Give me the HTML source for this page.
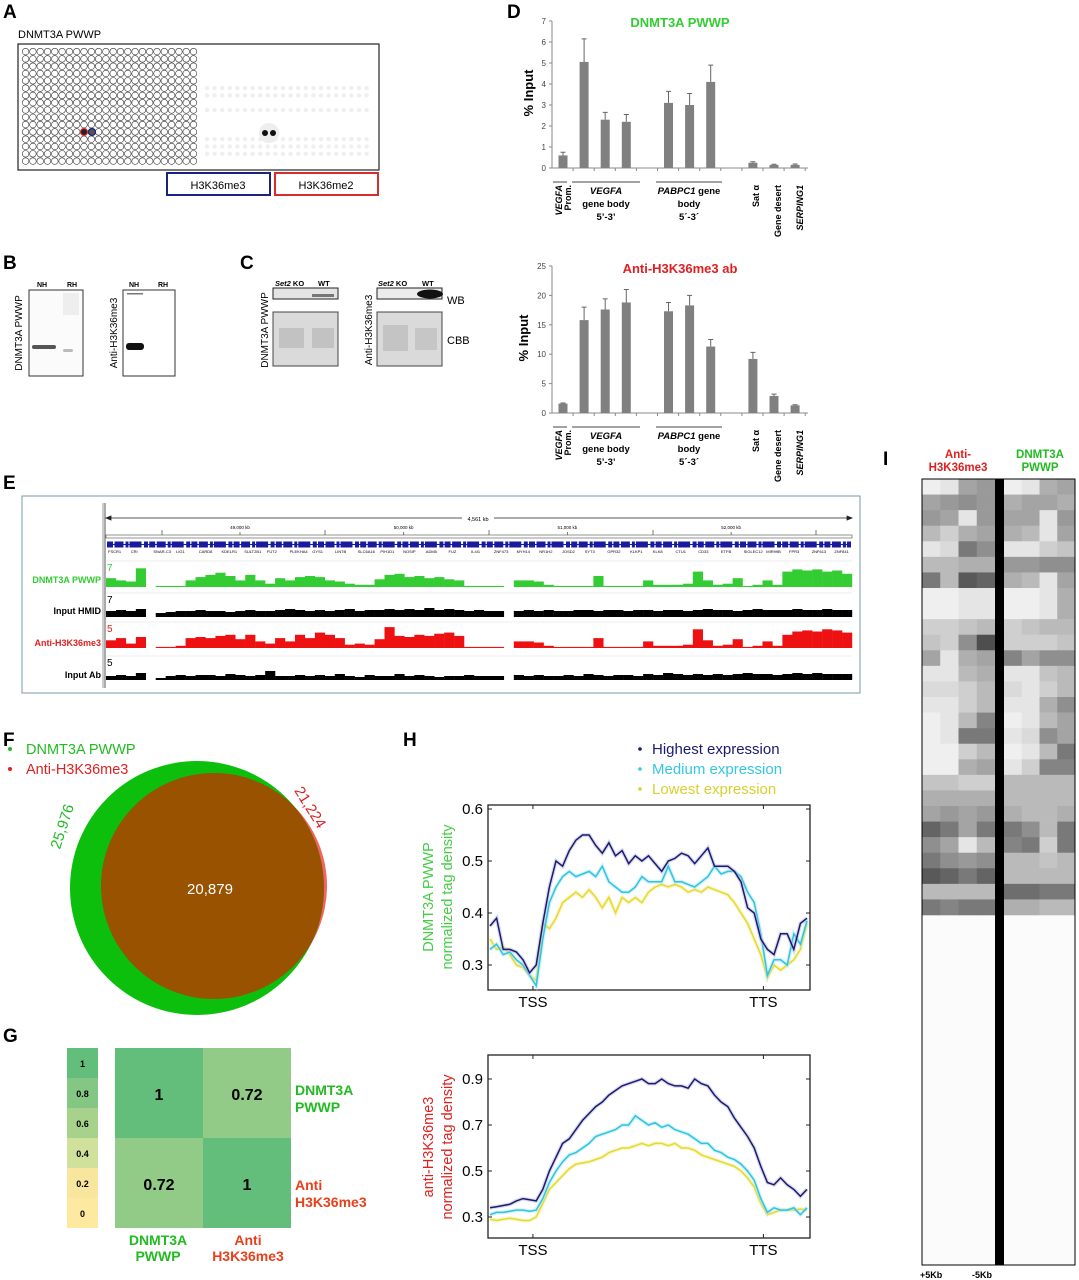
<!DOCTYPE html>
<html><head><meta charset="utf-8"><style>
html,body{margin:0;padding:0;background:#fff;}
svg{display:block;font-family:"Liberation Sans",sans-serif;}
</style></head><body>
<svg id="fig" width="1079" height="1280" viewBox="0 0 1079 1280" xmlns="http://www.w3.org/2000/svg">
<g font-weight="bold" font-size="19" fill="#000">
<text x="3" y="18">A</text>
<text x="3" y="269">B</text>
<text x="240" y="269">C</text>
<text x="507" y="18">D</text>
<text x="3" y="489">E</text>
<text x="3" y="746">F</text>
<text x="3" y="1042">G</text>
<text x="403" y="746">H</text>
<text x="883" y="465">I</text>
</g>

<g id="panelA">
<text x="18" y="38" font-size="11">DNMT3A PWWP</text>
<rect x="18" y="44" width="361" height="126" fill="#fff" stroke="#222" stroke-width="1.2"/>
<g id="gridA"></g>
<g id="spotsA"></g>
<rect x="167" y="173" width="103" height="22" fill="none" stroke="#1a237e" stroke-width="2"/>
<text x="218" y="189" font-size="11" text-anchor="middle">H3K36me3</text>
<rect x="275" y="173" width="103" height="22" fill="none" stroke="#d32f2f" stroke-width="2"/>
<text x="326" y="189" font-size="11" text-anchor="middle">H3K36me2</text>
</g>

<g>
<text transform="translate(22,333) rotate(-90)" font-size="10" text-anchor="middle">DNMT3A PWWP</text>
<text x="42" y="287" font-size="7" font-weight="bold" text-anchor="middle">NH</text>
<text x="72" y="287" font-size="7" font-weight="bold" text-anchor="middle">RH</text>
<rect x="29" y="290" width="54" height="86" fill="#fbfbfb" stroke="#333"/>
<rect x="63" y="293" width="16" height="22" fill="#eee"/>
<rect x="32" y="345" width="24" height="4" rx="2" fill="#555"/>
<rect x="63" y="349" width="10" height="3" rx="1.5" fill="#bbb"/>
<text transform="translate(117,333) rotate(-90)" font-size="10" text-anchor="middle">Anti-H3K36me3</text>
<text x="134" y="287" font-size="7" font-weight="bold" text-anchor="middle">NH</text>
<text x="163" y="287" font-size="7" font-weight="bold" text-anchor="middle">RH</text>
<rect x="123" y="290" width="52" height="86" fill="#fff" stroke="#333"/>
<rect x="127" y="293" width="16" height="1.5" fill="#777"/>
<rect x="126" y="343" width="18" height="7" rx="3" fill="#111"/>
</g>

<g>
<text transform="translate(268,330) rotate(-90)" font-size="10" text-anchor="middle">DNMT3A PWWP</text>
<text x="275" y="286" font-size="7.5" font-weight="bold"><tspan font-style="italic">Set2</tspan> KO</text>
<text x="318" y="286" font-size="7.5" font-weight="bold">WT</text>
<rect x="273" y="288" width="65" height="11" fill="#e4e4e4" stroke="#222"/>
<rect x="312" y="294" width="22" height="3" fill="#777"/>
<rect x="273" y="312" width="65" height="54" fill="#dadada" stroke="#444"/>
<rect x="279" y="328" width="25" height="20" fill="#c2c2c2"/>
<rect x="312" y="328" width="22" height="20" fill="#c2c2c2"/>
<text transform="translate(372,330) rotate(-90)" font-size="10" text-anchor="middle">Anti-H3K36me3</text>
<text x="378" y="286" font-size="7.5" font-weight="bold"><tspan font-style="italic">Set2</tspan> KO</text>
<text x="422" y="286" font-size="7.5" font-weight="bold">WT</text>
<rect x="377" y="288" width="65" height="11" fill="#ececec" stroke="#222"/>
<ellipse cx="430" cy="294" rx="13" ry="4.5" fill="#111"/>
<rect x="377" y="312" width="65" height="54" fill="#dadada" stroke="#444"/>
<rect x="383" y="325" width="25" height="26" fill="#c4c4c4"/>
<rect x="415" y="328" width="22" height="22" fill="#c6c6c6"/>
<text x="447" y="304" font-size="11">WB</text>
<text x="447" y="344" font-size="11">CBB</text>
</g>

<g id="panelD">
<text x="680" y="27" font-size="13" font-weight="bold" fill="#33cc33" text-anchor="middle">DNMT3A PWWP</text>
<text x="680" y="273" font-size="13" font-weight="bold" fill="#e02020" text-anchor="middle">Anti-H3K36me3  ab</text>
<text transform="translate(533,93) rotate(-90)" font-size="13" font-weight="bold" text-anchor="middle">% Input</text>
<text transform="translate(528,338) rotate(-90)" font-size="13" font-weight="bold" text-anchor="middle">% Input</text>
<g id="dTop"></g>
<g id="dBot"></g>
</g>

<g id="panelE">
<rect x="22" y="496" width="838" height="197" fill="#fff" stroke="#7a9aa8" stroke-width="1"/>
<line x1="103" y1="503" x2="103" y2="688" stroke="#999" stroke-width="1"/>
<line x1="105" y1="503" x2="105" y2="688" stroke="#555" stroke-width="1"/>
<g id="eRuler"></g>
<g id="eTracks"></g>
<g font-size="9" font-weight="bold" text-anchor="end">
<text x="101" y="583" fill="#33cc33">DNMT3A PWWP</text>
<text x="101" y="614" fill="#000">Input HMID</text>
<text x="101" y="646" fill="#e02020">Anti-H3K36me3</text>
<text x="101" y="678" fill="#000">Input Ab</text>
</g>
</g>

<g>
<circle cx="10" cy="749" r="2" fill="#22bb22"/>
<text x="26" y="754" font-size="14.5" fill="#22bb22">DNMT3A PWWP</text>
<circle cx="10" cy="769" r="2" fill="#dd2222"/>
<text x="26" y="774" font-size="14.5" fill="#dd2222">Anti-H3K36me3</text>
<defs><clipPath id="greenClip"><circle cx="197" cy="888" r="127"/></clipPath></defs>
<circle cx="214" cy="886" r="113" fill="#f26464"/>
<circle cx="197" cy="888" r="127" fill="#0cbf0c"/>
<circle cx="214" cy="886" r="113" fill="#985200" clip-path="url(#greenClip)"/>
<text x="210" y="894" font-size="15" fill="#fff" text-anchor="middle">20,879</text>
<text transform="translate(67,828) rotate(-72)" font-size="15" fill="#22bb22" text-anchor="middle">25,976</text>
<text transform="translate(306,810) rotate(58)" font-size="15" fill="#dd2222" text-anchor="middle">21,224</text>
</g>

<g id="panelG">
<g id="gBar"></g>
<g id="gMat"></g>
<g font-size="14" font-weight="bold">
<text x="295" y="1095" fill="#22bb22">DNMT3A</text>
<text x="295" y="1112" fill="#22bb22">PWWP</text>
<text x="295" y="1190" fill="#e8401a">Anti</text>
<text x="295" y="1207" fill="#e8401a">H3K36me3</text>
<text x="158" y="1245" fill="#22bb22" text-anchor="middle">DNMT3A</text>
<text x="158" y="1261" fill="#22bb22" text-anchor="middle">PWWP</text>
<text x="248" y="1245" fill="#e8401a" text-anchor="middle">Anti</text>
<text x="248" y="1261" fill="#e8401a" text-anchor="middle">H3K36me3</text>
</g>
</g>

<g id="panelH">
<g font-size="15">
<circle cx="640" cy="749" r="1.8" fill="#1a1a6e"/>
<text x="652" y="754" fill="#1a1a6e">Highest expression</text>
<circle cx="640" cy="769" r="1.8" fill="#33c8e0"/>
<text x="652" y="774" fill="#33c8e0">Medium expression</text>
<circle cx="640" cy="789" r="1.8" fill="#d8d030"/>
<text x="652" y="794" fill="#d8d030">Lowest expression</text>
</g>
<text transform="translate(433,897) rotate(-90)" font-size="14.5" fill="#44cc44" text-anchor="middle">DNMT3A PWWP</text>
<text transform="translate(452,897) rotate(-90)" font-size="14.5" fill="#44cc44" text-anchor="middle">normalized tag density</text>
<text transform="translate(433,1147) rotate(-90)" font-size="14.5" fill="#e02020" text-anchor="middle">anti-H3K36me3</text>
<text transform="translate(452,1147) rotate(-90)" font-size="14.5" fill="#e02020" text-anchor="middle">normalized tag density</text>
<g id="hTop"></g>
<g id="hBot"></g>
</g>

<g id="panelI">
<text x="958" y="458" font-size="11.5" font-weight="bold" fill="#e02020" text-anchor="middle">Anti-</text>
<text x="958" y="471" font-size="11.5" font-weight="bold" fill="#e02020" text-anchor="middle">H3K36me3</text>
<text x="1040" y="458" font-size="11.5" font-weight="bold" fill="#22bb22" text-anchor="middle">DNMT3A</text>
<text x="1040" y="471" font-size="11.5" font-weight="bold" fill="#22bb22" text-anchor="middle">PWWP</text>
<g id="iCells"></g>
<rect x="995" y="479" width="9" height="786" fill="#000"/>
<rect x="922" y="479" width="153" height="786" fill="none" stroke="#000" stroke-width="1"/>
<text x="920" y="1278" font-size="9" font-weight="bold">+5Kb</text>
<text x="972" y="1278" font-size="9" font-weight="bold">-5Kb</text>
</g>
</svg>

<script>
const dCategories = ['VEGFA Prom.','VEGFA 5p','VEGFA mid','VEGFA 3p','PABPC1 5p','PABPC1 mid','PABPC1 3p','Sat alpha','Gene desert','SERPING1'];
const dSlots = [0,1,2,3,5,6,7,9,10,11];
const dPwwpValues = [0.6,5.05,2.3,2.2,3.1,3.0,4.1,0.25,0.15,0.15];
const dPwwpErrors = [0.15,1.1,0.35,0.35,0.55,0.55,0.8,0.05,0.03,0.04];
const dAbValues = [1.6,15.8,17.6,18.8,17.3,18.3,11.3,9.2,2.9,1.3];
const dAbErrors = [0.1,2.2,1.8,2.2,1.5,1.7,1.2,1.1,0.3,0.1];
const dPwwpTicks = [0,1,2,3,4,5,6,7];
const dAbTicks = [0,5,10,15,20,25];

const eDnmt3a = [0.4,0.3,0.25,0.85,0, 0.05,0.05,0.05,0.3,0.45, 0.55,0.65,0.5,0.3,0.55, 0.3,0.15,0.4,0.3,0.45,
 0.5,0.45,0.3,0.25,0.15, 0.1,0.1,0.35,0.55,0.6, 0.45,0.5,0.4,0.45,0.35, 0.3,0.05,0.05,0.05,0.05,
 0,0.3,0.3,0.25,0.1, 0.05,0.05,0.05,0.05,0.5, 0.05,0.05,0.05,0.05,0.3, 0.1,0.1,0.1,0.15,0.7,
 0.3,0.1,0.15,0.4,0.05, 0.1,0.3,0.1,0.7,0.8, 0.75,0.8,0.7,0.75,0.6];
const eInputHmid = [0.3,0.35,0.3,0.4,0, 0.2,0.25,0.3,0.3,0.35, 0.3,0.3,0.25,0.3,0.35, 0.3,0.3,0.35,0.4,0.35,
 0.3,0.35,0.3,0.35,0.4, 0.3,0.35,0.35,0.4,0.35, 0.4,0.35,0.45,0.35,0.4, 0.35,0.3,0.35,0.3,0.3,
 0,0.3,0.35,0.3,0.35, 0.3,0.3,0.35,0.35,0.3, 0.35,0.35,0.3,0.35,0.35, 0.3,0.35,0.35,0.3,0.35,
 0.4,0.35,0.35,0.3,0.35, 0.4,0.35,0.35,0.35,0.4, 0.35,0.35,0.4,0.35,0.35];
const eH3k36me3 = [0.35,0.45,0.2,0.5,0, 0.05,0.05,0.1,0.45,0.5, 0.45,0.55,0.6,0.4,0.6, 0.3,0.2,0.45,0.3,0.6,
 0.45,0.7,0.6,0.45,0.15, 0.2,0.15,0.4,0.95,0.55, 0.5,0.6,0.55,0.65,0.7, 0.55,0.05,0.05,0.05,0.05,
 0,0.3,0.3,0.25,0.1, 0.05,0.05,0.05,0.05,0.45, 0.05,0.05,0.05,0.05,0.3, 0.1,0.1,0.1,0.15,0.85,
 0.35,0.1,0.15,0.4,0.05, 0.1,0.3,0.1,0.6,0.75, 0.8,0.75,0.85,0.8,0.7];
const eInputAb = [0.2,0.25,0.2,0.35,0, 0.1,0.2,0.25,0.2,0.25, 0.25,0.2,0.3,0.25,0.2, 0.25,0.45,0.2,0.2,0.25,
 0.2,0.25,0.2,0.3,0.2, 0.15,0.25,0.2,0.2,0.3, 0.2,0.25,0.2,0.15,0.2, 0.2,0.25,0.2,0.2,0.2,
 0,0.25,0.2,0.25,0.2, 0.2,0.25,0.2,0.3,0.25, 0.2,0.25,0.25,0.2,0.3, 0.25,0.35,0.3,0.25,0.3,
 0.25,0.3,0.25,0.3,0.35, 0.3,0.3,0.25,0.3,0.35, 0.3,0.35,0.3,0.3,0.3];
const eGeneNames = ['FSCR1','CRI','SNAR-C3','LIG1','CARD8','KDELR1','SULT2B1','FUT2','PLEKHA4','GYS1','LIN7B','SLC6A16','PIH1D1','NOSIP','ADM5','FUZ','IL4I1','ZNF473','MYH14','NR1H2','JOSD2','SYT3','GPR32','KLKP1','KLK8','CTU1','CD33','ETFB','SIGLEC12','MIR99B','FPR3','ZNF613','ZNF841'];
const eRulerLabels = ['49,000 kb','50,000 kb','51,000 kb','52,000 kb'];

const gScaleValues = [1,0.8,0.6,0.4,0.2,0];
const gScaleLabels = ['1','0.8','0.6','0.4','0.2','0'];
const gMatrix = [[1,0.72],[0.72,1]];
const gMatrixLabels = [['1','0.72'],['0.72','1']];

const hTopHighest = [0.375,0.39,0.33,0.33,0.325,0.31,0.285,0.3,0.38,0.45,0.5,0.49,0.52,0.54,0.55,0.55,0.53,0.515,0.535,0.51,0.52,0.495,0.51,0.5,0.51,0.495,0.48,0.5,0.505,0.515,0.51,0.495,0.51,0.525,0.49,0.49,0.49,0.48,0.46,0.41,0.4,0.35,0.33,0.32,0.36,0.36,0.33,0.38,0.39];
const hTopMedium = [0.33,0.34,0.32,0.325,0.31,0.3,0.28,0.26,0.35,0.42,0.45,0.47,0.48,0.47,0.475,0.48,0.47,0.49,0.46,0.45,0.44,0.44,0.45,0.47,0.46,0.46,0.46,0.49,0.46,0.46,0.455,0.45,0.46,0.47,0.49,0.475,0.48,0.48,0.47,0.44,0.42,0.36,0.28,0.31,0.31,0.3,0.36,0.34,0.385];
const hTopLowest = [0.35,0.33,0.335,0.32,0.3,0.295,0.28,0.27,0.38,0.37,0.39,0.42,0.43,0.44,0.43,0.445,0.43,0.41,0.43,0.40,0.43,0.42,0.43,0.42,0.44,0.45,0.455,0.45,0.455,0.45,0.44,0.445,0.44,0.45,0.445,0.44,0.435,0.42,0.40,0.38,0.35,0.32,0.275,0.3,0.29,0.3,0.31,0.33,0.38];
const hBotHighest = [0.34,0.345,0.35,0.355,0.37,0.38,0.375,0.37,0.42,0.5,0.56,0.62,0.64,0.68,0.72,0.75,0.78,0.8,0.83,0.85,0.87,0.88,0.89,0.9,0.88,0.88,0.9,0.88,0.87,0.87,0.86,0.9,0.88,0.87,0.83,0.8,0.78,0.73,0.69,0.65,0.6,0.52,0.45,0.44,0.47,0.44,0.42,0.39,0.42];
const hBotMedium = [0.31,0.32,0.32,0.325,0.33,0.33,0.325,0.33,0.38,0.45,0.5,0.54,0.57,0.58,0.6,0.62,0.65,0.66,0.67,0.68,0.7,0.7,0.74,0.72,0.7,0.71,0.69,0.7,0.68,0.67,0.66,0.64,0.62,0.62,0.59,0.58,0.56,0.55,0.53,0.5,0.46,0.38,0.32,0.34,0.33,0.33,0.34,0.31,0.34];
const hBotLowest = [0.29,0.285,0.29,0.295,0.29,0.285,0.285,0.3,0.36,0.42,0.45,0.48,0.51,0.53,0.535,0.54,0.55,0.56,0.58,0.59,0.6,0.6,0.61,0.62,0.61,0.62,0.62,0.61,0.62,0.6,0.6,0.59,0.57,0.56,0.55,0.54,0.53,0.52,0.5,0.47,0.43,0.36,0.31,0.32,0.33,0.33,0.33,0.335,0.33];
const hTopTicks = [0.3,0.4,0.5,0.6];
const hBotTicks = [0.3,0.5,0.7,0.9];
const hXTickIndex = [6.5,41.4];
const hXTickLabels = ['TSS','TTS'];

const iLeftRows = [[0.05,0.1,0.4,0.45],[0.4,0.45,0.5,0.45],[0.45,0.4,0.1,0.45],[0.3,0.2,0.35,0.4],[0.1,0.15,0.6,0.5],[0.3,0.3,0.35,0.35],[0.6,0.3,0.75,0.7],[0.05,0.05,0.1,0.1],[0.05,0.05,0.1,0.1],[0.2,0.2,0.25,0.3],[0.25,0.2,0.5,0.8],[0.4,0.1,0.35,0.4],[0.1,0.1,0.3,0.35],[0.15,0.15,0.2,0.3],[0.1,0.1,0.2,0.3],[0.05,0.1,0.3,0.55],[0.05,0.1,0.6,0.6],[0.05,0.05,0.2,0.3],[0.05,0.05,0.35,0.4],[0.25,0.25,0.2,0.2],[0.35,0.35,0.35,0.35],[0.4,0.45,0.4,0.45],[0.7,0.6,0.4,0.6],[0.5,0.4,0.1,0.3],[0.6,0.5,0.45,0.5],[0.75,0.7,0.6,0.7],[0.3,0.3,0.3,0.3],[0.6,0.55,0.6,0.6]];
const iRightRows = [[0.05,0.1,0.35,0.4],[0.35,0.4,0.4,0.35],[0.4,0.4,0.1,0.45],[0.35,0.3,0.1,0.4],[0.1,0.1,0.2,0.25],[0.45,0.45,0.5,0.5],[0.35,0.3,0.1,0.4],[0.05,0.05,0.1,0.35],[0.05,0.05,0.1,0.35],[0.2,0.25,0.3,0.3],[0.2,0.2,0.2,0.25],[0.55,0.4,0.5,0.5],[0.1,0.1,0.25,0.3],[0.15,0.1,0.2,0.3],[0.1,0.1,0.35,0.5],[0.05,0.1,0.3,0.4],[0.1,0.15,0.5,0.4],[0.05,0.1,0.3,0.6],[0.1,0.2,0.55,0.55],[0.3,0.3,0.3,0.3],[0.3,0.3,0.3,0.3],[0.35,0.3,0.3,0.35],[0.6,0.5,0.3,0.6],[0.55,0.6,0.2,0.6],[0.3,0.3,0.25,0.3],[0.3,0.3,0.3,0.3],[0.65,0.65,0.6,0.6],[0.35,0.35,0.3,0.3]];

const NS = 'http://www.w3.org/2000/svg';
function mk(parent, tag, attrs){
  const e = document.createElementNS(NS, tag);
  for (const k in attrs) e.setAttribute(k, attrs[k]);
  parent.appendChild(e);
  return e;
}

(function(){
  const g = document.getElementById('gridA');
  for (let r = 0; r < 16; r++) for (let c = 0; c < 24; c++) {
    const el = mk(g, 'circle', {cx: 25.6 + c*7.3, cy: 51.6 + r*7.3, r: 3.3, fill: '#fff', stroke: '#333', 'stroke-width': 0.6});
    
    
  }
  const s = document.getElementById('spotsA');
  const faintRows = [5, 6, 8, 12, 13, 14];
  faintRows.forEach(function(r){
    for (let c = 0; c < 22; c++) {
      const el = mk(s, 'circle', {cx: 207 + c*7.6, cy: 51.6 + r*7.3, r: 2.2, fill: '#efefef'});
      
      
    }
  });
  const halo = mk(s, 'circle', {cx: 269, cy: 133, r: 10, fill: '#eee'});
  
  
  [[265,133],[273,133]].forEach(function(p){
    const el = mk(s, 'circle', {cx: p[0], cy: p[1], r: 3, fill: '#111'});
    
    
  });
  const m1 = mk(s, 'circle', {cx: 84, cy: 132, r: 3.5, fill: '#222', stroke: '#d32f2f', 'stroke-width': 1.2});
  
  
  const m2 = mk(s, 'circle', {cx: 92, cy: 132, r: 3.5, fill: '#555', stroke: '#1a237e', 'stroke-width': 1.2});
  
  
})();

function drawD(gid, values, errors, ticks, y0, yTop, maxV, labelY){
  const g = document.getElementById(gid);
  const x = function(slot){ return 563 + slot*21.1; };
  const y = function(v){ return y0 - v*(y0 - yTop)/maxV; };
  const ax = mk(g, 'line', {x1: 552, y1: y(maxV), x2: 552, y2: y0, stroke: '#888', 'stroke-width': 1});
  
  
  const bx = mk(g, 'line', {x1: 552, y1: y0, x2: 808, y2: y0, stroke: '#888', 'stroke-width': 1});
  
  
  ticks.forEach(function(t){
    const tk = mk(g, 'line', {x1: 549, y1: y(t), x2: 552, y2: y(t), stroke: '#888'});
    
    
    const tl = mk(g, 'text', {x: 546, y: y(t) + 3, 'font-size': 8, fill: '#444', 'text-anchor': 'end'});
    tl.textContent = t;
    
    
  });
  for (let i = 0; i < 12; i++) {
    const tk = mk(g, 'line', {x1: 552 + i*21.1 + 21.1, y1: y0, x2: 552 + i*21.1 + 21.1, y2: y0 + 3, stroke: '#888'});
    
    
  }
  values.forEach(function(v, i){
    const cx = x(dSlots[i]);
    const b = mk(g, 'rect', {x: cx - 4.5, y: y(v), width: 9, height: y0 - y(v), fill: '#808080'});
    
    
    const e = mk(g, 'path', {d: 'M' + cx + ' ' + y(v) + 'V' + y(v + errors[i]) + 'M' + (cx - 2.5) + ' ' + y(v + errors[i]) + 'H' + (cx + 2.5), stroke: '#666', 'stroke-width': 1, fill: 'none'});
    
    
  });
  const L = labelY;
  [[553,567],[572,640],[656,722]].forEach(function(s){
    const ln = mk(g, 'line', {x1: s[0], y1: L, x2: s[1], y2: L, stroke: '#444', 'stroke-width': 1});
    
    
  });
  const texts = [
    [606, L + 12, '<tspan font-style="italic">VEGFA</tspan>'], [606, L + 25, 'gene body'], [606, L + 38, '5\u2019-3\u2019'],
    [689, L + 12, '<tspan font-style="italic">PABPC1</tspan> gene'], [689, L + 25, 'body'], [689, L + 38, '5\u00b4-3\u00b4']
  ];
  texts.forEach(function(t){
    const el = mk(g, 'text', {x: t[0], y: t[1], 'font-size': 9.5, 'font-weight': 'bold', 'text-anchor': 'middle'});
    el.innerHTML = t[2];
    
    
  });
  const rot = [[562, '<tspan font-style="italic">VEGFA</tspan>'], [571, 'Prom.'], [759, 'Sat \u03b1'], [781, 'Gene desert'], [803, '<tspan font-style="italic">SERPING1</tspan>']];
  rot.forEach(function(r){
    const el = mk(g, 'text', {transform: 'translate(' + r[0] + ',' + (L + 3) + ') rotate(-90)', 'font-size': 9, 'font-weight': 'bold', 'text-anchor': 'end'});
    el.innerHTML = r[1];
    
    
  });
}
drawD('dTop', dPwwpValues, dPwwpErrors, dPwwpTicks, 168, 21, 7, 182);
drawD('dBot', dAbValues, dAbErrors, dAbTicks, 413, 266, 25, 427);

(function(){
  const r = document.getElementById('eRuler');
  const ln = mk(r, 'path', {d: 'M106 518H852M106 518l5 -2v4zM852 518l-5 -2v4z', stroke: '#222', fill: '#222', 'stroke-width': 0.8});
  
  
  const bg = mk(r, 'rect', {x: 462, y: 514, width: 32, height: 8, fill: '#fff'});
  
  
  const lt = mk(r, 'text', {x: 478, y: 521, 'font-size': 5.5, 'text-anchor': 'middle'});
  lt.textContent = '4,561 kb';
  
  
  const base = mk(r, 'rect', {x: 106, y: 535, width: 746, height: 3, fill: 'none', stroke: '#666', 'stroke-width': 0.7});
  
  
  [162, 325, 489, 653, 816].forEach(function(px){
    const t = mk(r, 'line', {x1: px, y1: 530, x2: px, y2: 535, stroke: '#444', 'stroke-width': 0.7});
    
    
  });
  eRulerLabels.forEach(function(lbl, i){
    const px = 240 + i*163.7;
    const t = mk(r, 'line', {x1: px, y1: 532, x2: px, y2: 535, stroke: '#444', 'stroke-width': 0.7});
    
    
    const tx = mk(r, 'text', {x: px, y: 529, 'font-size': 4.5, 'text-anchor': 'middle'});
    tx.textContent = lbl;
    
    
  });
  const genes = mk(r, 'line', {x1: 107, y1: 544.5, x2: 851, y2: 544.5, stroke: '#1a1aa0', 'stroke-width': 6, 'stroke-dasharray': '6 1.5 9 2 3 1 12 2.5 4 1.2'});
  
  
  const gl = mk(r, 'line', {x1: 107, y1: 544.5, x2: 851, y2: 544.5, stroke: '#1a1aa0', 'stroke-width': 1});
  
  
  eGeneNames.forEach(function(n, i){
    const tx = mk(r, 'text', {x: 108 + i*22.7, y: 553, 'font-size': 4});
    tx.textContent = n;
    
    
  });

  const tg = document.getElementById('eTracks');
  const tracks = [
    {data: eDnmt3a, base: 587, h: 22, color: '#33cc33', scale: '7', sc: '#33cc33', name: 'dnmt3a-track'},
    {data: eInputHmid, base: 617, h: 20, color: '#000', scale: '7', sc: '#000', name: 'input-hmid-track'},
    {data: eH3k36me3, base: 648, h: 22, color: '#ee1111', scale: '5', sc: '#e02020', name: 'h3k36me3-track'},
    {data: eInputAb, base: 680, h: 20, color: '#000', scale: '5', sc: '#000', name: 'input-ab-track'}
  ];
  const bw = 746 / 75;
  tracks.forEach(function(t){
    const sep = mk(tg, 'line', {x1: 106, y1: t.base - t.h - 4, x2: 852, y2: t.base - t.h - 4, stroke: '#ddd', 'stroke-width': 0.6});
    
    
    const sl = mk(tg, 'text', {x: 107, y: t.base - t.h + 6, 'font-size': 10, fill: t.sc});
    sl.textContent = t.scale;
    
    
    t.data.forEach(function(v, i){
      if (v <= 0) return;
      const h = v * t.h;
      const b = mk(tg, 'rect', {x: 106 + i*bw, y: t.base - h, width: bw + 0.2, height: h, fill: t.color});
      
      
    });
  });
})();

(function(){
  const colorOf = function(v){
    const stops = [[0,[253,234,160]],[0.2,[248,230,158]],[0.4,[207,225,154]],[0.6,[166,210,140]],[0.8,[132,199,132]],[1,[99,190,123]]];
    for (let i = 1; i < stops.length; i++) if (v <= stops[i][0]) {
      const a = stops[i-1], b = stops[i], f = (v - a[0])/(b[0]-a[0]);
      return 'rgb(' + a[1].map(function(c, k){ return Math.round(c + (b[1][k]-c)*f); }).join(',') + ')';
    }
    return 'rgb(99,190,123)';
  };
  const gb = document.getElementById('gBar');
  gScaleValues.forEach(function(v, i){
    const c = mk(gb, 'rect', {x: 67, y: 1048 + i*30, width: 31, height: 30, fill: colorOf(v)});
    
    
    const t = mk(gb, 'text', {x: 82.5, y: 1067 + i*30, 'font-size': 9, 'font-weight': 'bold', 'text-anchor': 'middle'});
    t.textContent = gScaleLabels[i];
    
    
  });
  const gm = document.getElementById('gMat');
  gMatrix.forEach(function(row, r){
    row.forEach(function(v, c){
      const cell = mk(gm, 'rect', {x: 115 + c*88, y: 1048 + r*90, width: 88, height: 90, fill: colorOf(v)});
      
      
      const t = mk(gm, 'text', {x: 159 + c*88, y: 1100 + r*90, 'font-size': 16, 'font-weight': 'bold', 'text-anchor': 'middle'});
      t.textContent = gMatrixLabels[r][c];
      
      
    });
  });
})();

function drawH(gid, series, ticks, frameTop, top, bottom, vTop, pxPerUnit){
  const g = document.getElementById(gid);
  const x = function(i){ return 490 + i*(807-490)/48; };
  const y = function(v){ return top + (vTop - v)*pxPerUnit; };
  const fr = mk(g, 'rect', {x: 488, y: frameTop, width: 322, height: bottom - frameTop, fill: 'none', stroke: '#222', 'stroke-width': 1.3});
  
  
  ticks.forEach(function(t){
    const tk = mk(g, 'path', {d: 'M488 ' + y(t) + 'h4M810 ' + y(t) + 'h-4', stroke: '#222'});
    
    
    const tl = mk(g, 'text', {x: 483, y: y(t) + 5, 'font-size': 15, 'text-anchor': 'end'});
    tl.textContent = t.toFixed(1);
    
    
  });
  hXTickIndex.forEach(function(idx, k){
    const px = x(idx);
    const tk = mk(g, 'path', {d: 'M' + px + ' ' + bottom + 'v-4M' + px + ' ' + frameTop + 'v4', stroke: '#222'});
    
    
    const tl = mk(g, 'text', {x: px, y: bottom + 17, 'font-size': 15, 'text-anchor': 'middle'});
    tl.textContent = hXTickLabels[k];
    
    
  });
  series.forEach(function(s){
    const d = s.values.map(function(v, i){ return (i ? 'L' : 'M') + x(i).toFixed(1) + ' ' + y(v).toFixed(1); }).join('');
    const band = mk(g, 'path', {d: d, stroke: s.band, 'stroke-width': 4, fill: 'none', opacity: 0.5});
    
    
    const ln = mk(g, 'path', {d: d, stroke: s.color, 'stroke-width': 1.5, fill: 'none'});
    
    
  });
}
drawH('hTop', [
  {values: hTopLowest, color: '#e6da28', band: '#f3eca0', name: 'lowest-expression'},
  {values: hTopMedium, color: '#2fc3e0', band: '#a8e8f3', name: 'medium-expression'},
  {values: hTopHighest, color: '#1a1a6e', band: '#b8b8e0', name: 'highest-expression'}
], hTopTicks, 805, 809, 990, 0.6, 520);
drawH('hBot', [
  {values: hBotLowest, color: '#e6da28', band: '#f3eca0', name: 'lowest-expression'},
  {values: hBotMedium, color: '#2fc3e0', band: '#a8e8f3', name: 'medium-expression'},
  {values: hBotHighest, color: '#1a1a6e', band: '#b8b8e0', name: 'highest-expression'}
], hBotTicks, 1055, 1079, 1238, 0.9, 230);

(function(){
  const g = document.getElementById('iCells');
  const bg = mk(g, 'rect', {x: 922, y: 479, width: 153, height: 786, fill: '#fbfbfb'});
  
  
  const rh = 436 / iLeftRows.length;
  const gray = function(d){ const c = Math.round(250 - d*215); return 'rgb(' + c + ',' + c + ',' + c + ')'; };
  iLeftRows.forEach(function(row, r){
    row.forEach(function(d, c){
      const cell = mk(g, 'rect', {x: 922 + c*18.25, y: 479 + r*rh, width: 18.5, height: rh + 0.3, fill: gray(d)});
      
      
    });
  });
  iRightRows.forEach(function(row, r){
    row.forEach(function(d, c){
      const cell = mk(g, 'rect', {x: 1004 + c*17.75, y: 479 + r*rh, width: 18, height: rh + 0.3, fill: gray(d)});
      
      
    });
  });
})();
</script>
</body></html>
